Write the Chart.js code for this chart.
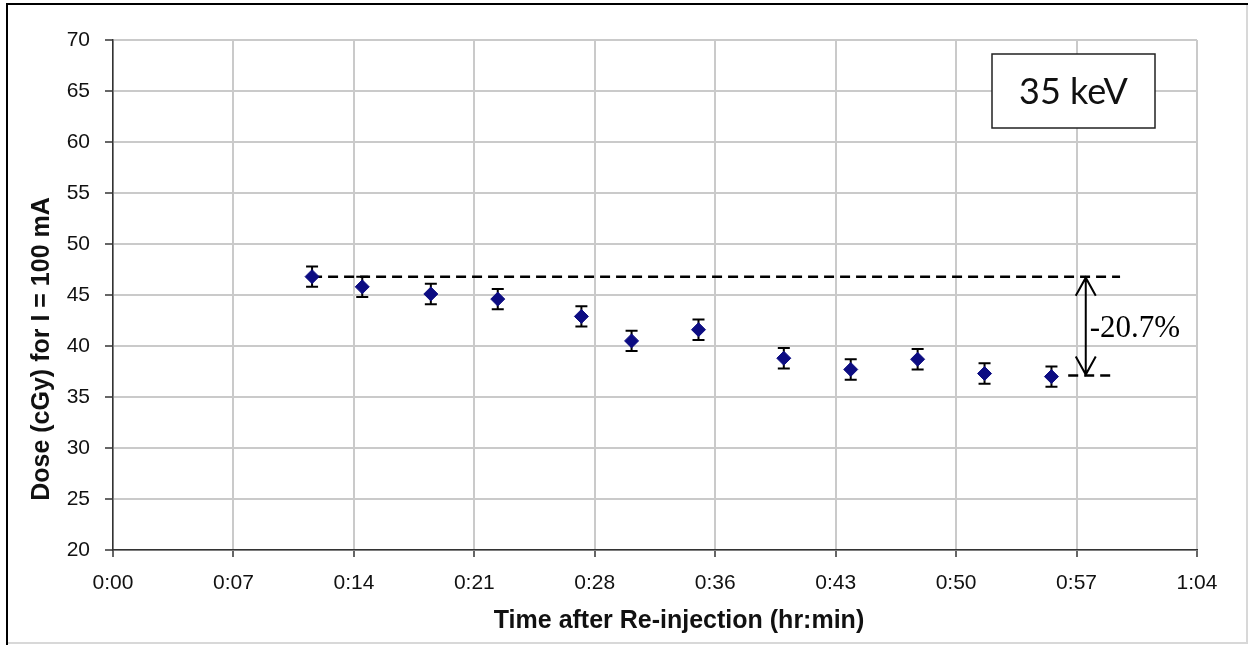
<!DOCTYPE html>
<html>
<head>
<meta charset="utf-8">
<script src="https://cdn.jsdelivr.net/npm/chart.js@4/dist/chart.umd.min.js"></script>
<style>
  html, body { margin: 0; padding: 0; background: #fff; }
  canvas { display: block; }
</style>
</head>
<body>
<canvas id="doseChart" width="1252" height="647"></canvas>
<script>
// tiempo tras la reinyección, en minutos
const timeMinutes = [11.9, 14.9, 19.0, 23.0, 28.0, 31.0, 35.0, 40.1, 44.1, 48.1, 52.1, 56.1];
const doseValues = [46.8, 45.8, 45.1, 44.6, 42.9, 40.5, 41.6, 38.8, 37.7, 38.7, 37.3, 37.0];
const doseErrors = [1.0, 1.0, 1.0, 1.0, 1.0, 1.0, 1.0, 1.0, 1.0, 1.0, 1.0, 1.0];

// ejes (Excel: pasos de 0,005 días = 7,2 min)
const xTickValues = [0, 7.2, 14.4, 21.6, 28.8, 36, 43.2, 50.4, 57.6, 64.8];
const xTickLabels = ['0:00', '0:07', '0:14', '0:21', '0:28', '0:36', '0:43', '0:50', '0:57', '1:04'];
const yTickValues = [20, 25, 30, 35, 40, 45, 50, 55, 60, 65, 70];

// líneas de referencia y flecha
const upperRefTimes = [11.9, 60.2];
const upperRefDose = 46.8;
const lowerRefTimes = [57.1, 59.8];
const lowerRefDose = 37.1;
const arrowTime = 58.15;
const dropLabel = '-20.7%';
const energyLabel = '35 keV';
const xTitle = 'Time after Re-injection (hr:min)';
const yTitle = 'Dose (cGy) for I = 100 mA';

const axisFont = { family: "'Liberation Sans', Arial, sans-serif", size: 21 };
const titleFontCss = "bold 25px 'Liberation Sans', Arial, sans-serif";

// barras de error, debajo de los marcadores
const errorBarsPlugin = {
    id: 'errorBars',
    beforeDatasetsDraw(chart) {
        const { ctx, scales: { x, y } } = chart;
        ctx.save();
        ctx.strokeStyle = '#000';
        ctx.lineWidth = 2;
        timeMinutes.forEach((t, i) => {
            const px = x.getPixelForValue(t);
            const top = y.getPixelForValue(doseValues[i] + doseErrors[i]);
            const bot = y.getPixelForValue(doseValues[i] - doseErrors[i]);
            ctx.beginPath();
            ctx.moveTo(px, top); ctx.lineTo(px, bot);
            ctx.moveTo(px - 6, top); ctx.lineTo(px + 6, top);
            ctx.moveTo(px - 6, bot); ctx.lineTo(px + 6, bot);
            ctx.stroke();
        });
        ctx.restore();
    }
};

// títulos, flecha, porcentaje, cuadro de energía y marco
const annotationsPlugin = {
    id: 'annotations',
    afterDraw(chart) {
        const { ctx, chartArea, scales: { x, y } } = chart;
        ctx.save();

        // títulos de los ejes (movidos a mano en el original)
        ctx.fillStyle = '#111';
        ctx.font = titleFontCss;
        ctx.textAlign = 'center';
        ctx.textBaseline = 'middle';
        ctx.fillText(xTitle, 679, 621);
        ctx.save();
        ctx.translate(42, 349);
        ctx.rotate(-Math.PI / 2);
        ctx.fillText(yTitle, 0, 0);
        ctx.restore();

        const ax = x.getPixelForValue(arrowTime);
        const ay1 = y.getPixelForValue(upperRefDose);
        const ay2 = y.getPixelForValue(lowerRefDose);
        ctx.strokeStyle = '#000';
        ctx.lineWidth = 2;
        ctx.beginPath();
        ctx.moveTo(ax, ay1); ctx.lineTo(ax, ay2);
        ctx.moveTo(ax - 10, ay1 + 19); ctx.lineTo(ax, ay1 + 1); ctx.lineTo(ax + 10, ay1 + 19);
        ctx.moveTo(ax - 10, ay2 - 19); ctx.lineTo(ax, ay2 - 1); ctx.lineTo(ax + 10, ay2 - 19);
        ctx.stroke();

        ctx.fillStyle = '#000';
        ctx.font = "31px 'Liberation Serif', 'Times New Roman', serif";
        ctx.textAlign = 'left';
        ctx.fillText(dropLabel, ax + 4, (ay1 + ay2) / 2 + 3);

        // cuadro "35 keV"
        const bx = chartArea.right - 205, by = chartArea.top + 14, bw = 163, bh = 74;
        ctx.fillStyle = '#fff';
        ctx.fillRect(bx, by, bw, bh);
        ctx.strokeStyle = '#222';
        ctx.lineWidth = 1.5;
        ctx.strokeRect(bx, by, bw, bh);
        ctx.fillStyle = '#111';
        ctx.font = "36px Lato, 'Open Sans', sans-serif";
        ctx.textAlign = 'center';
        ctx.fillText(energyLabel, bx + bw / 2, by + bh / 2 + 1);

        // marco exterior
        ctx.lineWidth = 2;
        ctx.strokeStyle = '#d8d8d8';
        ctx.beginPath();
        ctx.moveTo(1247, 4); ctx.lineTo(1247, 643); ctx.lineTo(7, 643);
        ctx.stroke();
        ctx.strokeStyle = '#000';
        ctx.beginPath();
        ctx.moveTo(7, 645); ctx.lineTo(7, 4); ctx.lineTo(1248, 4);
        ctx.stroke();
        ctx.restore();
    }
};

const ctx = document.getElementById('doseChart').getContext('2d');
new Chart(ctx, {
    type: 'scatter',
    data: {
        datasets: [{
            label: 'Dose',
            data: timeMinutes.map((t, i) => ({ x: t, y: doseValues[i] })),
            pointStyle: 'rectRot',
            pointRadius: 7,
            pointBackgroundColor: '#0c0c82',
            pointBorderColor: '#0c0c82',
            pointBorderWidth: 1,
            showLine: false,
            order: 1
        }, {
            label: 'Inicial',
            data: upperRefTimes.map(t => ({ x: t, y: upperRefDose })),
            showLine: true,
            borderColor: '#000',
            borderWidth: 2.5,
            borderDash: [10, 6],
            pointRadius: 0,
            fill: false,
            order: 2
        }, {
            label: 'Final',
            data: lowerRefTimes.map(t => ({ x: t, y: lowerRefDose })),
            showLine: true,
            borderColor: '#000',
            borderWidth: 2.5,
            borderDash: [10, 6],
            pointRadius: 0,
            fill: false,
            order: 2
        }]
    },
    options: {
        responsive: false,
        animation: false,
        layout: { padding: { left: 0, right: 55, top: 40, bottom: 0 } },
        scales: {
            x: {
                type: 'linear',
                min: 0,
                max: 64.8,
                afterBuildTicks: s => { s.ticks = xTickValues.map(v => ({ value: v })); },
                afterFit: s => { s.height = 97; },
                ticks: {
                    font: axisFont,
                    color: '#111',
                    padding: 14,
                    maxRotation: 0,
                    callback: (v, i) => xTickLabels[i]
                },
                grid: { color: '#cacaca', lineWidth: 2, tickColor: '#333', tickLength: 7, tickWidth: 1.5 },
                border: { color: '#333', width: 1.5 }
            },
            y: {
                min: 20,
                max: 70,
                afterBuildTicks: s => { s.ticks = yTickValues.map(v => ({ value: v })); },
                afterFit: s => { s.width = 113; },
                ticks: { font: axisFont, color: '#111', padding: 15 },
                grid: { color: '#cacaca', lineWidth: 2, tickColor: '#333', tickLength: 8, tickWidth: 1.5 },
                border: { color: '#333', width: 1.5 }
            }
        },
        plugins: {
            legend: { display: false },
            tooltip: { enabled: false }
        }
    },
    plugins: [errorBarsPlugin, annotationsPlugin]
});
</script>
</body>
</html>
